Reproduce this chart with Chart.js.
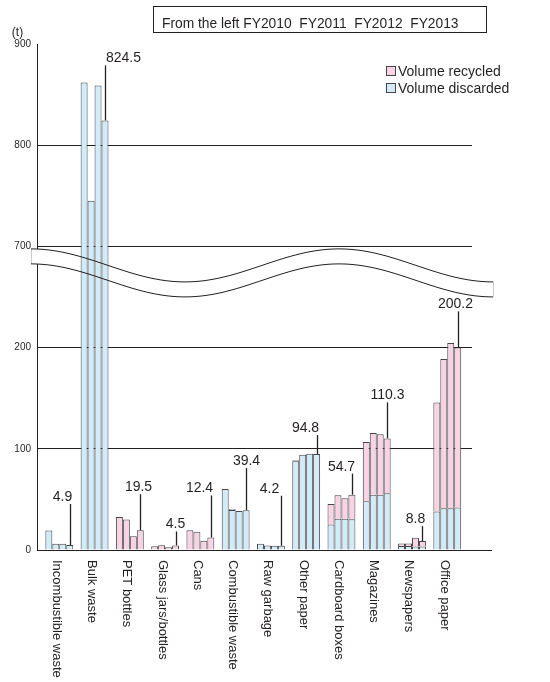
<!DOCTYPE html>
<html>
<head>
<meta charset="utf-8">
<script src="https://cdn.jsdelivr.net/npm/chart.js@4.4.1/dist/chart.umd.min.js"></script>
<style>
  html, body { margin: 0; padding: 0; background: #fff; }
</style>
</head>
<body>
<canvas id="waste-chart" width="550" height="682"></canvas>
<script>
// Categories and years
const categories = ['Incombustible waste', 'Bulk waste', 'PET bottles', 'Glass jars/bottles', 'Cans',
    'Combustible waste', 'Raw garbage', 'Other paper', 'Cardboard boxes', 'Magazines', 'Newspapers', 'Office paper'];
const years = ['FY2010', 'FY2011', 'FY2012', 'FY2013'];

// Volume discarded (t)
const discarded2010 = [19.2, 862, 0, 0, 0, 60.4, 6.1, 87.8, 25.3, 48.2, 4.0, 38.0];
const discarded2011 = [6.2, 745, 0, 0, 0, 39.6, 4.4, 94.1, 31.0, 54.7, 4.0, 41.2];
const discarded2012 = [6.2, 859, 0, 0, 0, 38.5, 4.3, 95.1, 31.0, 54.7, 3.5, 41.2];
const discarded2013 = [4.9, 824.5, 0, 0, 0, 39.4, 4.2, 94.8, 30.3, 56.2, 3.5, 42.1];

// Volume recycled (t)
const recycled2010 = [0, 0, 32.6, 3.6, 19.4, 0, 0, 1.0, 20.1, 58.4, 2.4, 107.7];
const recycled2011 = [0, 0, 30.1, 4.6, 18.1, 0.8, 0, 0, 23.0, 60.8, 2.4, 147.6];
const recycled2012 = [0, 0, 13.6, 2.6, 9.2, 0, 0, 0, 20.1, 59.8, 8.7, 163.3];
const recycled2013 = [0, 0, 19.5, 4.5, 12.4, 0, 0, 0, 24.4, 54.1, 5.3, 158.1];

// Y axis ticks (axis is broken between 200 and 700)
const yTickLabels = ['0', '100', '200', '700', '800', '900'];
const axisGap = 400;

// Callout tweaks for the FY2013 values (line length, label shift)
const calloutLift = [41, 55, 36, 14, 42, 42, 50, 19, 21, 36, 15, 36];
const calloutShift = [-8, 18, -2, -1, -12, 0, -12, -12, -11, 0, -7, -3];

const INK = '#231f20';
const PINK = '#f8d3e3';
const BLUE = '#d2ebf8';
const EDGE = '#454547';

const discarded = [discarded2010, discarded2011, discarded2012, discarded2013];
const recycled = [recycled2010, recycled2011, recycled2012, recycled2013];

// real value -> value on the compressed axis
function toAxis(v) {
    return v > 500 ? v - axisGap : v;
}

function points(arr) {
    return arr.map((v, i) => ({ x: i, y: v ? toAxis(v) : null }));
}

const datasets = [];
years.forEach((yr, k) => {
    datasets.push({
        label: 'Volume discarded ' + yr,
        data: points(discarded[k]),
        backgroundColor: BLUE,
        borderColor: EDGE,
        borderWidth: 1,
        stack: yr
    });
    datasets.push({
        label: 'Volume recycled ' + yr,
        data: points(recycled[k]),
        backgroundColor: PINK,
        borderColor: EDGE,
        borderWidth: 1,
        stack: yr
    });
});

function wavePath(chart, yTop, reverse) {
    const area = chart.chartArea;
    const x0 = area.left - 6, x1 = area.right + 21;
    const pts = [];
    for (let x = x0; x <= x1; x += 2) {
        pts.push([x, yTop + 16.5 - 16.5 * Math.cos(Math.PI * (x - x0) / 154)]);
    }
    if (reverse) pts.reverse();
    return pts;
}

const decorPlugin = {
    id: 'decor',
    beforeDatasetsDraw(chart) {
        const ctx = chart.ctx;
        const yTop = chart.scales.y.getPixelForValue(300) + 2.5;
        const top = wavePath(chart, yTop, false);
        const bottom = wavePath(chart, yTop + 15, true);
        ctx.save();
        ctx.beginPath();
        top.concat(bottom).forEach((p, i) => i ? ctx.lineTo(p[0], p[1]) : ctx.moveTo(p[0], p[1]));
        ctx.closePath();
        ctx.fillStyle = '#fff';
        ctx.fill();
        ctx.restore();
    },
    afterDatasetsDraw(chart) {
        const ctx = chart.ctx;
        const area = chart.chartArea;
        const ys = chart.scales.y;

        // wave lines
        const yTop = ys.getPixelForValue(300) + 2.5;
        const top = wavePath(chart, yTop, false);
        const bottom = wavePath(chart, yTop + 15, false);
        ctx.save();
        ctx.strokeStyle = '#c8c8c8';
        ctx.lineWidth = 1;
        [top[0], top[top.length - 1]].forEach((p) => {
            ctx.beginPath();
            ctx.moveTo(p[0] + 0.5, p[1]);
            ctx.lineTo(p[0] + 0.5, p[1] + 15);
            ctx.stroke();
        });
        ctx.strokeStyle = INK;
        [top, bottom].forEach((line) => {
            ctx.beginPath();
            line.forEach((p, i) => i ? ctx.lineTo(p[0], p[1]) : ctx.moveTo(p[0], p[1]));
            ctx.stroke();
        });

        // baseline runs a bit past the plot
        ctx.beginPath();
        ctx.moveTo(area.right, area.bottom + 0.5);
        ctx.lineTo(area.right + 20, area.bottom + 0.5);
        ctx.stroke();

        // FY2013 callouts
        const metaD = chart.getDatasetMeta(6);
        const metaR = chart.getDatasetMeta(7);
        ctx.font = '14px "Liberation Sans", Arial, sans-serif';
        ctx.fillStyle = INK;
        ctx.textAlign = 'center';
        ctx.textBaseline = 'alphabetic';
        ctx.lineWidth = 1.3;
        categories.forEach((c, i) => {
            const total = discarded2013[i] + recycled2013[i];
            const el = recycled2013[i] ? metaR.data[i] : metaD.data[i];
            const x = Math.round(el.x) + 0.5;
            const yBar = ys.getPixelForValue(toAxis(total));
            const yLine = yBar - calloutLift[i];
            ctx.beginPath();
            ctx.moveTo(x, yBar);
            ctx.lineTo(x, yLine);
            ctx.stroke();
            ctx.fillText(total.toFixed(1), x + calloutShift[i], yLine - 3);
        });
        ctx.restore();
    },
    afterDraw(chart) {
        const ctx = chart.ctx;
        const area = chart.chartArea;
        const xs = chart.scales.x;
        ctx.save();
        ctx.fillStyle = INK;

        // category names, reading downwards
        ctx.font = '13px "Liberation Sans", Arial, sans-serif';
        ctx.textAlign = 'left';
        ctx.textBaseline = 'middle';
        categories.forEach((c, i) => {
            ctx.save();
            ctx.translate(xs.getPixelForValue(i) - 3, area.bottom + 10);
            ctx.rotate(Math.PI / 2);
            ctx.fillText(c, 0, 0);
            ctx.restore();
        });

        // unit
        ctx.textAlign = 'center';
        ctx.textBaseline = 'alphabetic';
        ctx.font = '12px "Liberation Sans", Arial, sans-serif';
        ctx.fillText('(t)', 17.5, 36);

        // year order box
        ctx.strokeStyle = INK;
        ctx.lineWidth = 1;
        ctx.strokeRect(153.5, 6.5, 333, 26);
        ctx.textAlign = 'left';
        ctx.font = '13.8px "Liberation Sans", Arial, sans-serif';
        ctx.fillText('From the left ' + years.join('  '), 162, 28);

        // legend
        const legend = [['Volume recycled', PINK], ['Volume discarded', BLUE]];
        ctx.font = '14px "Liberation Sans", Arial, sans-serif';
        legend.forEach((item, k) => {
            const y = 66 + k * 17;
            ctx.fillStyle = item[1];
            ctx.fillRect(386.5, y + 0.5, 9, 9);
            ctx.strokeStyle = EDGE;
            ctx.strokeRect(386.5, y + 0.5, 9, 9);
            ctx.fillStyle = INK;
            ctx.fillText(item[0], 398, y + 10);
        });
        ctx.restore();
    }
};

const ctx = document.getElementById('waste-chart').getContext('2d');
const wasteChart = new Chart(ctx, {
    type: 'bar',
    data: { datasets: datasets },
    plugins: [decorPlugin],
    options: {
        responsive: false,
        animation: false,
        categoryPercentage: 0.79,
        barPercentage: 1,
        layout: { padding: { top: 44, right: 78, left: 0, bottom: 0 } },
        plugins: {
            legend: { display: false },
            tooltip: { enabled: false }
        },
        scales: {
            x: {
                type: 'linear',
                offset: false,
                stacked: true,
                min: -0.632,
                max: 11.701,
                grid: { display: false },
                border: { color: INK, width: 1 },
                ticks: { display: false },
                afterFit(scale) { scale.height = 132; }
            },
            y: {
                stacked: true,
                min: 0,
                max: 500,
                border: { color: INK, width: 1 },
                grid: {
                    drawTicks: false,
                    color: (c) => (c.tick && c.tick.value > 0 && c.tick.value < 500) ? INK : 'rgba(0,0,0,0)'
                },
                ticks: {
                    stepSize: 100,
                    padding: 6,
                    color: INK,
                    font: { family: '"Liberation Sans Narrow", "Liberation Sans", Arial', size: 10 },
                    callback: (v) => yTickLabels[v / 100]
                },
                afterFit(scale) { scale.width = 37; }
            }
        }
    }
});
</script>
</body>
</html>
